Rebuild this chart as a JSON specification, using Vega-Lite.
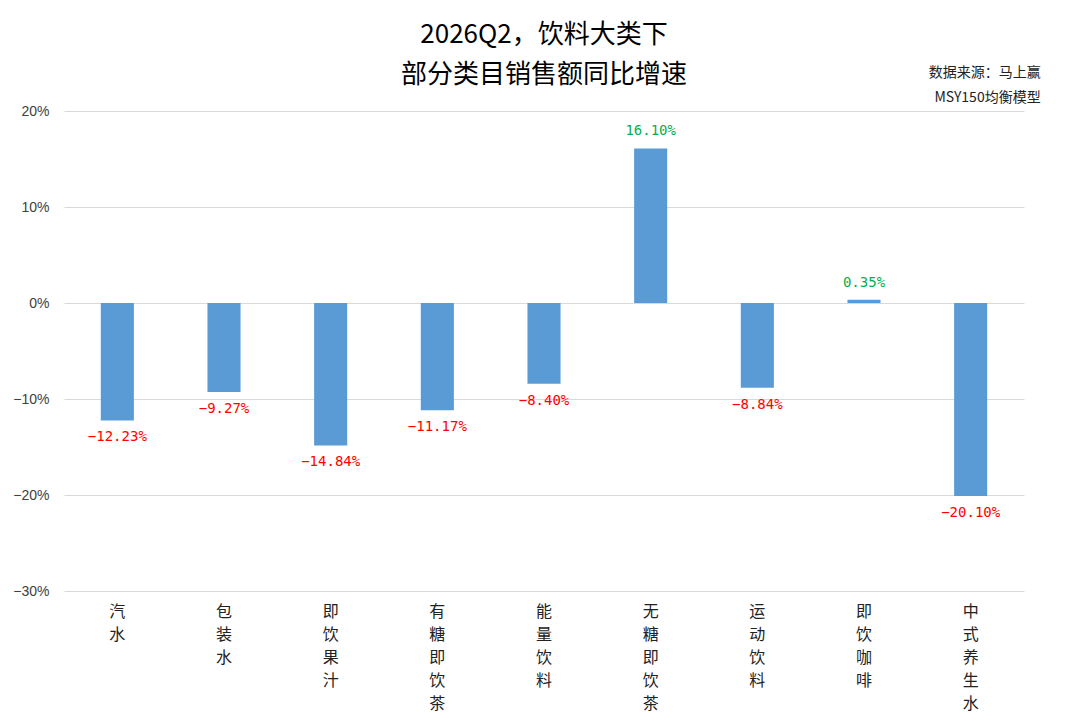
{
  "$schema": "https://vega.github.io/schema/vega-lite/v6.json",
  "autosize": "none",
  "width": 960,
  "height": 480,
  "padding": {"left": 64, "top": 111, "right": 56, "bottom": 135},
  "background": "white",
  "config": {
    "view": {"stroke": null},
    "font": "Noto Sans CJK SC"
  },
  "title": {
    "text": ["2026Q2，饮料大类下", "部分类目销售额同比增速"],
    "fontSize": 26,
    "lineHeight": 40,
    "fontWeight": "normal",
    "color": "black",
    "anchor": "middle",
    "frame": "group",
    "offset": -22
  },
  "data": {
    "values": [
      {"cat": "汽水", "value": -0.1223},
      {"cat": "包装水", "value": -0.0927},
      {"cat": "即饮果汁", "value": -0.1484},
      {"cat": "有糖即饮茶", "value": -0.1117},
      {"cat": "能量饮料", "value": -0.0840},
      {"cat": "无糖即饮茶", "value": 0.1610},
      {"cat": "运动饮料", "value": -0.0884},
      {"cat": "即饮咖啡", "value": 0.0035},
      {"cat": "中式养生水", "value": -0.2010}
    ]
  },
  "encoding": {
    "x": {
      "field": "cat",
      "type": "nominal",
      "sort": null,
      "title": null,
      "scale": {"paddingInner": 0.69, "paddingOuter": 0.345},
      "axis": {
        "labelAngle": 0,
        "labelExpr": "split(datum.label, '')",
        "labelFontSize": 16,
        "labelLineHeight": 23,
        "labelBaseline": "top",
        "labelColor": "#222222",
        "labelPadding": 12,
        "ticks": false,
        "domain": false
      }
    },
    "y": {
      "field": "value",
      "type": "quantitative",
      "title": null,
      "scale": {"domain": [-0.3, 0.2], "nice": false},
      "axis": {
        "values": [-0.3, -0.2, -0.1, 0, 0.1, 0.2],
        "format": ".0%",
        "labelFontSize": 14,
        "labelColor": "#404040",
        "labelPadding": 15,
        "labelFont": "Liberation Sans",
        "ticks": false,
        "domain": false,
        "grid": true,
        "gridColor": "#d9d9d9",
        "gridWidth": 1.2
      }
    }
  },
  "layer": [
    {"mark": {"type": "bar", "color": "#5B9BD5"}},
    {
      "transform": [{"filter": "datum.value < 0"}],
      "mark": {"type": "text", "baseline": "top", "dy": 10, "fontSize": 14, "color": "#FF0000", "font": "DejaVu Sans Mono"},
      "encoding": {"text": {"field": "value", "format": ".2%"}}
    },
    {
      "transform": [{"filter": "datum.value >= 0"}],
      "mark": {"type": "text", "baseline": "bottom", "dy": -10, "fontSize": 14, "color": "#00B050", "font": "DejaVu Sans Mono"},
      "encoding": {"text": {"field": "value", "format": ".2%"}}
    },
    {
      "data": {"values": [{"cat": "中式养生水", "value": 0.24, "note": ["数据来源：马上赢", "MSY150均衡模型"]}]},
      "mark": {"type": "text", "align": "right", "baseline": "middle", "dx": 70, "fontSize": 14, "lineHeight": 25, "color": "#222222", "clip": false},
      "encoding": {"text": {"field": "note"}}
    }
  ]
}
